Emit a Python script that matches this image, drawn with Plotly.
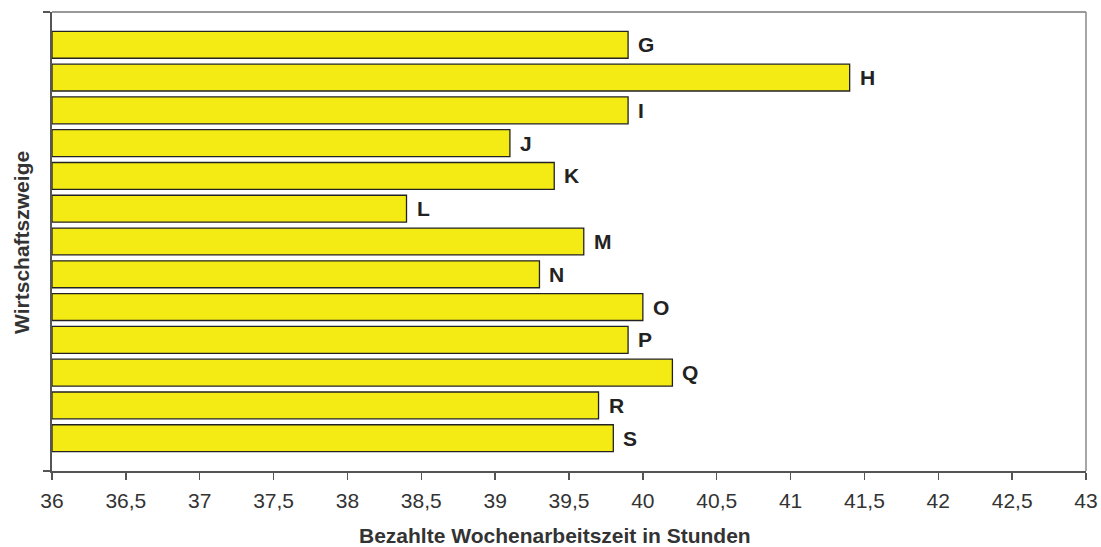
import plotly.graph_objects as go

categories = ["G", "H", "I", "J", "K", "L", "M", "N", "O", "P", "Q", "R", "S"]
values = [39.9, 41.4, 39.9, 39.1, 39.4, 38.4, 39.6, 39.3, 40.0, 39.9, 40.2, 39.7, 39.8]
x_ticks = [36, 36.5, 37, 37.5, 38, 38.5, 39, 39.5, 40, 40.5, 41, 41.5, 42, 42.5, 43]
x_tick_labels = [str(t).replace(".", ",") for t in x_ticks]
x_title = "Bezahlte Wochenarbeitszeit in Stunden"
y_title = "Wirtschaftszweige"

positions = list(range(len(categories)))
base = 36
FONT = "Liberation Sans, Arial, sans-serif"

fig = go.Figure()
fig.add_trace(go.Bar(
    y=positions,
    x=[v - base for v in values],
    base=base,
    orientation="h",
    width=0.82,
    marker=dict(color="#F5EB14", line=dict(color="#222222", width=1.3)),
    hoverinfo="skip",
))

for p, v, c in zip(positions, values, categories):
    fig.add_annotation(x=v, y=p, text="<b>%s</b>" % c, showarrow=False,
                       xanchor="left", xshift=8,
                       font=dict(family=FONT, size=21, color="#222222"))

# axis titles
fig.add_annotation(xref="paper", yref="paper", x=0.4865, y=0, yanchor="middle", yshift=-64,
                   text="<b>%s</b>" % x_title, showarrow=False,
                   font=dict(family=FONT, size=21, color="#333333"))
fig.add_annotation(xref="paper", yref="paper", x=0, y=0.497, xanchor="center", xshift=-30,
                   text="<b>%s</b>" % y_title, showarrow=False, textangle=-90,
                   font=dict(family=FONT, size=21, color="#333333"))

fig.update_layout(
    width=1101, height=547,
    margin=dict(l=52, r=15, t=12, b=76),
    paper_bgcolor="white", plot_bgcolor="white",
    showlegend=False,
    font=dict(family=FONT, color="#333333"),
    bargap=0,
)
fig.update_xaxes(
    range=[36, 43], tickvals=x_ticks, ticktext=x_tick_labels,
    ticks="outside", ticklen=7, tickcolor="#555555", tickwidth=1.5,
    showline=True, linecolor="#555555", linewidth=2, mirror=False,
    showgrid=False, zeroline=False, automargin=False,
    ticklabelstandoff=3,
    tickfont=dict(family=FONT, size=21, color="#333333"),
)
fig.update_yaxes(
    range=[13, -1], tickvals=[-1, 13], showticklabels=False,
    ticks="outside", ticklen=7, tickcolor="#555555", tickwidth=1.5,
    showline=True, linecolor="#555555", linewidth=2,
    showgrid=False, zeroline=False, automargin=False,
)
# gray frame top and right
fig.add_shape(type="line", xref="paper", yref="paper", x0=0, x1=1, y0=1, y1=1,
              line=dict(color="#999999", width=2))
fig.add_shape(type="line", xref="paper", yref="paper", x0=1, x1=1, y0=0, y1=1,
              line=dict(color="#888888", width=1.5))

fig.write_html("out.html",
               config={"displayModeBar": False, "staticPlot": True},
               post_script="document.body.style.margin='0';document.body.style.overflow='hidden';")
